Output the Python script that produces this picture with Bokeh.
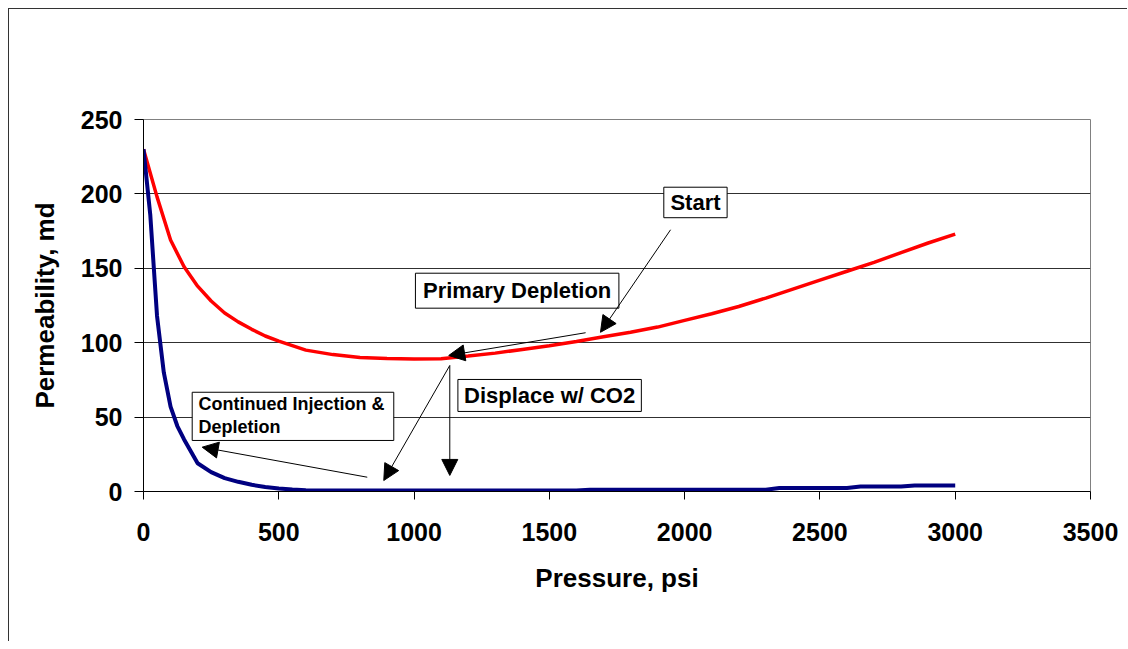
from bokeh.plotting import figure
from bokeh.models import Arrow, NormalHead, Label, FixedTicker, Range1d
from bokeh.embed import file_html
from bokeh.resources import INLINE

# ---- data ----
red_p = [0, 50, 100, 150, 200, 250, 300, 350, 400, 450, 500, 550, 600, 700, 800,
         900, 1000, 1100, 1200, 1300, 1400, 1500, 1600, 1700, 1800, 1900, 2000,
         2100, 2200, 2300, 2400, 2500, 2600, 2700, 2800, 2900, 3000]
red_k = [230, 198, 169, 151, 138, 128, 120, 114, 109, 104.5, 101, 98, 95, 92, 90,
         89.3, 89, 89.2, 91, 93, 95.5, 98, 100.8, 104, 107, 110.5, 115, 119.5,
         124.3, 130, 136, 142, 148, 154, 160.5, 167, 173]

blue_p = [0, 25, 50, 75, 100, 125, 150, 200, 250, 300, 350, 400, 450, 500, 550,
          600, 700, 800, 900, 1000, 1100, 1200, 1300, 1400, 1500, 1600, 1650,
          1700, 1800, 1900, 2000, 2100, 2200, 2300, 2350, 2400, 2500, 2600, 2650,
          2700, 2800, 2850, 2900, 3000]
blue_k = [230, 186, 118, 80, 57, 44, 35, 19, 13, 9, 6.5, 4.5, 3, 2, 1.3,
          0.9, 0.7, 0.6, 0.6, 0.6, 0.6, 0.6, 0.6, 0.6, 0.6, 0.6, 1.2,
          1.2, 1.2, 1.2, 1.2, 1.2, 1.2, 1.2, 2.4, 2.4, 2.4, 2.4, 3.3,
          3.3, 3.3, 4.0, 4.0, 4.0]

x_ticks = [0, 500, 1000, 1500, 2000, 2500, 3000, 3500]
y_ticks = [0, 50, 100, 150, 200, 250]

FONT = "Liberation Sans"

p = figure(width=1119, height=633, output_backend="svg", toolbar_location=None,
           x_range=Range1d(0, 3500), y_range=Range1d(0, 250),
           min_border_left=134, min_border_right=38, min_border_top=110,
           min_border_bottom=151,
           styles={"margin-left": "8px", "margin-top": "8px",
                   "border-left": "1px solid #333333",
                   "border-top": "1px solid #333333"})
p.background_fill_color = "white"
p.border_fill_color = "white"
p.outline_line_color = "#808080"

p.xgrid.grid_line_color = None
p.ygrid.grid_line_color = "#303030"
p.ygrid.grid_line_width = 1
p.ygrid.ticker = FixedTicker(ticks=y_ticks)

p.xaxis.ticker = FixedTicker(ticks=x_ticks)
p.yaxis.ticker = FixedTicker(ticks=y_ticks)
for ax in (p.xaxis, p.yaxis):
    ax.axis_line_color = "black"
    ax.major_tick_line_color = "black"
    ax.minor_tick_line_color = None
    ax.major_tick_in = 0
    ax.major_label_text_font = FONT
    ax.major_label_text_font_style = "bold"
    ax.major_label_text_font_size = "25px"
    ax.major_label_text_color = "black"
    ax.axis_label_text_font = FONT
    ax.axis_label_text_font_style = "bold"
    ax.axis_label_text_font_size = "26px"
    ax.axis_label_text_color = "black"
p.xaxis.major_tick_out = 8
p.yaxis.major_tick_out = 9
p.xaxis.major_label_standoff = 23
p.yaxis.major_label_standoff = 12
p.xaxis.axis_label = "Pressure, psi"
p.yaxis.axis_label = "Permeability, md"
p.xaxis.axis_label_standoff = 19
p.yaxis.axis_label_standoff = 18

p.line(red_p, red_k, line_color="#FF0000", line_width=3.5)
p.line(blue_p, blue_k, line_color="#000080", line_width=4)

# ---- annotation boxes ----
boxes = [
    (1923, 2157, 204.5, 184.0),   # Start
    (1005, 1757, 146.7, 123.2),   # Primary Depletion
    (1162, 1840, 75.3, 53.8),     # Displace w/ CO2
    (180, 925, 66.7, 34.3),       # Continued Injection & Depletion
]
p.quad(left=[b[0] for b in boxes], right=[b[1] for b in boxes],
       top=[b[2] for b in boxes], bottom=[b[3] for b in boxes],
       fill_color="white", line_color="black", line_width=1)

def lab(x, y, text, size, align="center"):
    p.add_layout(Label(x=x, y=y, text=text, text_font=FONT, text_font_style="bold",
                       text_font_size=size, text_align=align, text_baseline="middle",
                       text_color="black"))

lab(2040, 194.3, "Start", "22px")
lab(1381, 135.0, "Primary Depletion", "22px")
lab(1501, 64.5, "Displace w/ CO2", "22px")
lab(203, 58.9, "Continued Injection &", "18px", "left")
lab(203, 43.2, "Depletion", "18px", "left")

arrows = [
    (1948, 175.9, 1689, 107.0),
    (1634, 106.7, 1128, 91.4),
    (1132, 84.7, 1132, 10.8),
    (1132, 84.7, 888, 7.4),
    (827, 9.6, 217, 29.8),
]
for xs, ys, xe, ye in arrows:
    p.add_layout(Arrow(end=NormalHead(size=16, fill_color="black", line_color="black"),
                       x_start=xs, y_start=ys, x_end=xe, y_end=ye,
                       line_color="black", line_width=1))

open("out.html", "w").write(file_html(p, INLINE))
